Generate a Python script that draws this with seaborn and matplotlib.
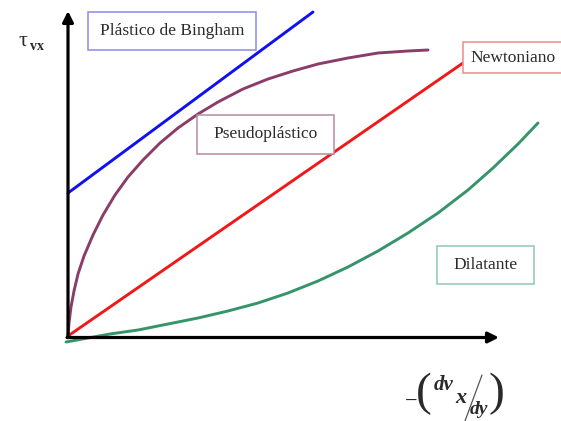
import seaborn as sns
import matplotlib.pyplot as plt
from matplotlib.patches import Rectangle

# curves (x = shear rate, y = shear stress, arbitrary units)
bingham_x = [0, 245]
bingham_y = [143, 324]

newton_x = [0, 395]
newton_y = [0, 273]

pseudo_x = [0, 1, 3, 6, 10, 16, 25, 35, 47, 60, 75, 92, 110, 130, 150, 175,
            200, 225, 250, 280, 310, 340, 360]
pseudo_y = [0, 13, 29, 45, 62, 80, 101, 121, 141, 159, 176, 193, 208, 222, 234, 247,
            257, 265, 272, 278, 283, 285, 286]

dilat_x = [-2, 20, 42, 70, 100, 130, 160, 190, 220, 250, 280, 310, 340, 370, 400,
           425, 450, 470]
dilat_y = [-6, -2, 2, 6, 12, 18, 25, 33, 43, 55, 69, 85, 103, 123, 146,
           168, 192, 213]

labels = ["Plástico de Bingham", "Newtoniano", "Pseudoplástico", "Dilatante"]

sns.set_theme(style="white")
plt.rcParams['font.family'] = ['Liberation Serif', 'DejaVu Serif']

fig = plt.figure(figsize=(5.61, 4.21), dpi=100)
ax = fig.add_axes([0, 0, 1, 1])
ax.set_xlim(-68, 493)
ax.set_ylim(-85, 336)
ax.axis('off')

# axes arrows
arw = dict(arrowstyle='-|>', lw=2.3, color='black', mutation_scale=16, shrinkA=0, shrinkB=0)
ax.annotate('', xy=(0, 325), xytext=(0, -1.5), arrowprops=arw)
ax.annotate('', xy=(431, -1.5), xytext=(-1, -1.5), arrowprops=arw)

lw = 2.1
sns.lineplot(x=bingham_x, y=bingham_y, sort=False, color='#1010f0', lw=lw, ax=ax)
sns.lineplot(x=pseudo_x, y=pseudo_y, sort=False, color='#8a3d68', lw=lw, ax=ax)
sns.lineplot(x=newton_x, y=newton_y, sort=False, color='#f01818', lw=lw, ax=ax)
sns.lineplot(x=dilat_x, y=dilat_y, sort=False, color='#35946a', lw=lw, ax=ax)

# label boxes: (left, bottom, width, height) in data units
boxes = [(20, 286, 168, 38), (395, 263, 100, 31), (129, 182, 137, 39), (369, 52, 97, 38)]
edges = ['#8a8ae8', '#f08a8a', '#b88aa0', '#90c8b0']
txt = '#2a2a2a'
for lab, (bx, by, bw, bh), ec in zip(labels, boxes, edges):
    ax.add_patch(Rectangle((bx, by), bw, bh, fill=True, facecolor='white',
                           edgecolor=ec, lw=1.1, zorder=5))
    ax.text(bx + bw / 2, by + bh / 2, lab, ha='center', va='center',
            fontsize=12.5, color=txt, zorder=6)

# y label: tau_vx
ax.text(-45, 294, 'τ', ha='center', va='center', fontsize=16, color=txt)
ax.text(-31, 290, 'vx', ha='center', va='center', fontsize=10, fontweight='bold', color=txt)

# x label: -(dv_x / dy)
ax.text(343, -66, '−', ha='center', va='center', fontsize=16, color=txt)
ax.text(356, -58, '(', ha='center', va='center', fontsize=34, color=txt)
ax.text(376, -49, 'dv', ha='center', va='center', fontsize=15, fontweight='bold',
        style='italic', color=txt)
ax.text(393, -62, 'x', ha='center', va='center', fontsize=16, fontweight='bold',
        style='italic', color=txt)
ax.plot([397, 414], [-85, -39], color='#555555', lw=0.9)
ax.text(411, -73, 'dy', ha='center', va='center', fontsize=14, fontweight='bold',
        style='italic', color=txt)
ax.text(428, -58, ')', ha='center', va='center', fontsize=34, color=txt)

fig.savefig('out.png', dpi=100)
